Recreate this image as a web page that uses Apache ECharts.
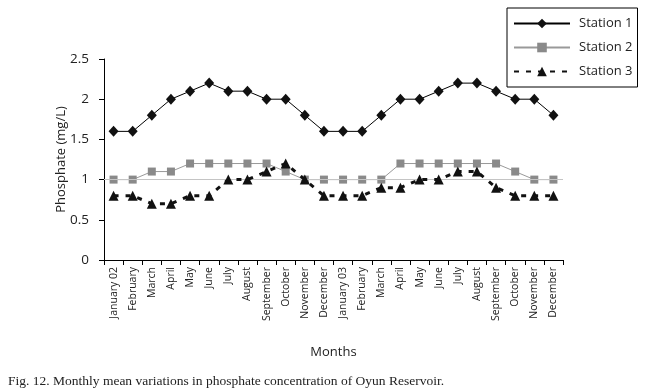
<!DOCTYPE html>
<html>
<head>
<meta charset="utf-8">
<script src="https://cdn.jsdelivr.net/npm/echarts@6/dist/echarts.min.js"></script>
<style>
  html, body { margin: 0; padding: 0; background: #fff; }
  #chart { width: 648px; height: 390px; }
</style>
</head>
<body>
<div id="chart"></div>
<script>
  let months = ['January 02', 'February', 'March', 'April', 'May', 'June', 'July', 'August',
    'September', 'October', 'November', 'December', 'January 03', 'February', 'March', 'April',
    'May', 'June', 'July', 'August', 'September', 'October', 'November', 'December'];
  let station1 = [1.6, 1.6, 1.8, 2.0, 2.1, 2.2, 2.1, 2.1, 2.0, 2.0, 1.8, 1.6,
    1.6, 1.6, 1.8, 2.0, 2.0, 2.1, 2.2, 2.2, 2.1, 2.0, 2.0, 1.8];
  let station2 = [1.0, 1.0, 1.1, 1.1, 1.2, 1.2, 1.2, 1.2, 1.2, 1.1, 1.0, 1.0,
    1.0, 1.0, 1.0, 1.2, 1.2, 1.2, 1.2, 1.2, 1.2, 1.1, 1.0, 1.0];
  let station3 = [0.8, 0.8, 0.7, 0.7, 0.8, 0.8, 1.0, 1.0, 1.1, 1.2, 1.0, 0.8,
    0.8, 0.8, 0.9, 0.9, 1.0, 1.0, 1.1, 1.1, 0.9, 0.8, 0.8, 0.8];
  let yTicks = [0, 0.5, 1, 1.5, 2, 2.5];

  let sans = '"Open Sans", "Noto Sans", sans-serif';
  let chart = echarts.init(document.getElementById('chart'));
  let option = {
    animation: false,
    backgroundColor: '#fff',
    title: {
      text: 'Fig. 12. Monthly mean variations in phosphate concentration of Oyun Reservoir.',
      left: 3,
      top: 369,
      textStyle: {
        fontFamily: '"Liberation Serif", serif',
        fontSize: 13.5,
        fontWeight: 'normal',
        color: '#222'
      }
    },
    legend: {
      orient: 'vertical',
      left: 507,
      top: 8,
      padding: [9, 5, 9, 6],
      itemGap: 11,
      itemWidth: 56,
      itemHeight: 12,
      borderColor: '#000',
      borderWidth: 1,
      backgroundColor: '#fff',
      textStyle: {
        fontFamily: sans,
        fontSize: 13,
        color: '#222',
        padding: [0, 2, 0, 4]
      },
      data: ['Station 1', 'Station 2', 'Station 3']
    },
    grid: {
      left: 104,
      right: 85,
      top: 59,
      bottom: 130
    },
    xAxis: {
      type: 'category',
      data: months,
      name: 'Months',
      nameLocation: 'middle',
      nameGap: 86,
      nameMoveOverlap: false,
      nameTextStyle: { fontFamily: sans, fontSize: 13, color: '#222' },
      axisLine: { lineStyle: { color: '#000', width: 1 } },
      axisTick: { show: true, length: 5, lineStyle: { color: '#000' } },
      axisLabel: {
        rotate: 90,
        interval: 0,
        fontFamily: sans,
        fontSize: 10.5,
        color: '#222',
        margin: 7
      }
    },
    yAxis: {
      type: 'value',
      min: 0,
      max: 2.5,
      interval: 0.5,
      name: 'Phosphate (mg/L)',
      nameLocation: 'middle',
      nameGap: 36,
      nameMoveOverlap: false,
      nameTextStyle: { fontFamily: sans, fontSize: 13, color: '#222' },
      axisLine: { show: true, lineStyle: { color: '#000', width: 1 } },
      axisTick: { show: true, length: 5, lineStyle: { color: '#000' } },
      axisLabel: {
        fontFamily: sans,
        fontSize: 13.5,
        color: '#222',
        margin: 15,
        formatter: function (v) {
          return yTicks.indexOf(v) >= 0 ? String(v) : '';
        }
      },
      splitLine: { show: false }
    },
    series: [
      {
        name: 'Station 1',
        type: 'line',
        data: station1,
        symbol: 'diamond',
        symbolSize: [10, 11],
        color: '#000',
        lineStyle: { color: '#000', width: 1 },
        itemStyle: { color: '#111' },
        z: 4
      },
      {
        name: 'Station 2',
        type: 'line',
        data: station2,
        symbol: 'rect',
        symbolSize: 8,
        color: '#8a8a8a',
        lineStyle: { color: '#999', width: 1 },
        itemStyle: { color: '#8a8a8a' },
        markLine: {
          silent: true,
          symbol: 'none',
          label: { show: false },
          lineStyle: { color: '#c4c4c4', width: 1, type: 'solid' },
          data: [{ yAxis: 1 }]
        },
        z: 3
      },
      {
        name: 'Station 3',
        type: 'line',
        data: station3,
        symbol: 'triangle',
        symbolSize: [10, 10],
        color: '#000',
        lineStyle: { color: '#111', width: 3, type: [5, 7] },
        itemStyle: { color: '#111' },
        z: 5
      }
    ]
  };
  chart.setOption(option);
</script>
</body>
</html>
